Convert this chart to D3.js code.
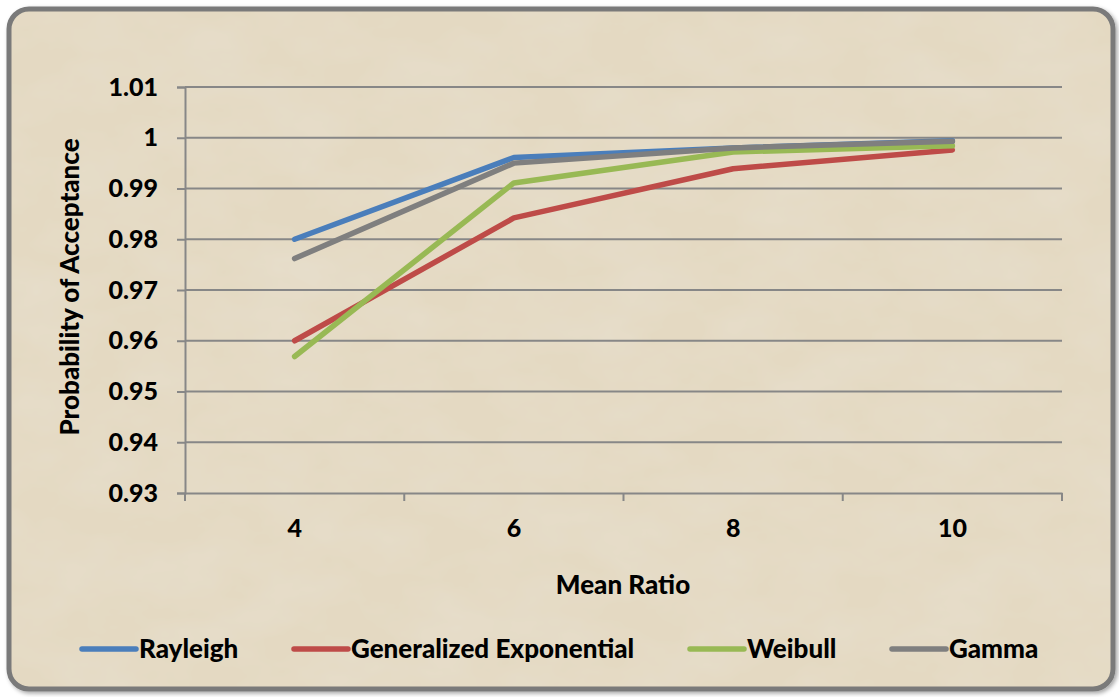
<!DOCTYPE html>
<html>
<head>
<meta charset="utf-8">
<script src="https://cdn.jsdelivr.net/npm/d3@7"></script>
<style>
  body { margin: 0; background: #fff; }
  text { font-family: Lato, "Open Sans", sans-serif; font-weight: 900; fill: #000; }
</style>
</head>
<body>
<div id="main"></div>
<script>
var categories = [4, 6, 8, 10];
var rayleigh = [0.980, 0.9961, 0.998, 0.9994];
var genExp = [0.960, 0.9842, 0.9939, 0.9976];
var weibull = [0.9569, 0.9911, 0.9972, 0.9984];
var gamma = [0.9762, 0.995, 0.998, 0.9993];
var seriesNames = ["Rayleigh", "Generalized Exponential", "Weibull", "Gamma"];
var seriesColors = ["#4a7ebb", "#be4b48", "#98b954", "#7f7f7f"];
var yTicks = [0.93, 0.94, 0.95, 0.96, 0.97, 0.98, 0.99, 1, 1.01];

var ctx = {
    w: 1119,
    h: 697,
    plot: { left: 185, right: 1062, top: 87, bottom: 493 },
};

var svg = d3.select("#main").append("svg")
    .attr("width", ctx.w)
    .attr("height", ctx.h);

var defs = svg.append("defs");
var filt = defs.append("filter").attr("id", "paper")
    .attr("x", 0).attr("y", 0).attr("width", "100%").attr("height", "100%");
filt.append("feTurbulence").attr("type", "fractalNoise")
    .attr("baseFrequency", "0.012 0.02").attr("numOctaves", 4).attr("seed", 3).attr("result", "noise");
filt.append("feColorMatrix").attr("in", "noise").attr("type", "matrix")
    .attr("values", "0 0 0 0 0.80  0 0 0 0 0.74  0 0 0 0 0.62  0 0 0 -1.1 0.75")
    .attr("result", "tint");
filt.append("feComposite").attr("in", "tint").attr("in2", "SourceGraphic").attr("operator", "atop");

var shadow = defs.append("filter").attr("id", "shadow");
shadow.append("feDropShadow").attr("dx", 2).attr("dy", 2).attr("stdDeviation", 2)
    .attr("flood-color", "#000").attr("flood-opacity", 0.35);

// frame
svg.append("rect")
    .attr("x", 9).attr("y", 9).attr("width", 1104).attr("height", 680)
    .attr("rx", 20)
    .attr("fill", "#e4d9c2")
    .attr("stroke", "#7a7a7a").attr("stroke-width", 5)
    .attr("filter", "url(#shadow)");
svg.append("rect")
    .attr("x", 12).attr("y", 12).attr("width", 1098).attr("height", 674)
    .attr("rx", 18)
    .attr("fill", "#e4d9c2")
    .attr("filter", "url(#paper)");

var x = d3.scaleBand()
    .domain(categories)
    .range([ctx.plot.left, ctx.plot.right]);
var y = d3.scaleLinear()
    .domain([0.93, 1.01])
    .range([ctx.plot.bottom, ctx.plot.top]);

// gridlines
svg.append("g").selectAll("line")
    .data(yTicks.slice(1))
    .enter().append("line")
    .attr("x1", ctx.plot.left).attr("x2", ctx.plot.right)
    .attr("y1", d => y(d)).attr("y2", d => y(d))
    .attr("stroke", "#878787").attr("stroke-width", 2);

// y axis
var yAxis = svg.append("g")
    .attr("transform", "translate(" + ctx.plot.left + ",0)")
    .call(d3.axisLeft(y).tickValues(yTicks).tickSize(8).tickPadding(19)
        .tickFormat(d => d3.format("")(+d.toFixed(2))));
yAxis.select(".domain").attr("stroke", "#878787").attr("stroke-width", 2);
yAxis.selectAll(".tick line").attr("stroke", "#878787").attr("stroke-width", 2);
yAxis.selectAll("text").style("font-size", "25px").attr("fill", "#000");

// x axis
var xAxis = svg.append("g")
    .attr("transform", "translate(0," + ctx.plot.bottom + ")")
    .call(d3.axisBottom(x).tickSize(0).tickPadding(26));
xAxis.select(".domain").attr("stroke", "#878787").attr("stroke-width", 2);
xAxis.selectAll("text").style("font-size", "25px").attr("fill", "#000");
// category boundary ticks
var bounds = categories.map(c => x(c)).concat([ctx.plot.right]);
xAxis.selectAll(".btick").data(bounds).enter().append("line")
    .attr("class", "btick")
    .attr("x1", d => d).attr("x2", d => d)
    .attr("y1", 0).attr("y2", 8)
    .attr("stroke", "#878787").attr("stroke-width", 2);

// lines
var allSeries = [rayleigh, genExp, weibull, gamma];
var line = d3.line()
    .x((d, i) => x(categories[i]) + x.bandwidth() / 2)
    .y(d => y(d));
svg.append("g").selectAll("path")
    .data(allSeries)
    .enter().append("path")
    .attr("d", d => line(d))
    .attr("fill", "none")
    .attr("stroke", (d, i) => seriesColors[i])
    .attr("stroke-width", 5.5)
    .attr("stroke-linecap", "round")
    .attr("stroke-linejoin", "round");

// axis titles
svg.append("text")
    .attr("x", 623).attr("y", 594)
    .attr("text-anchor", "middle")
    .style("font-size", "26px")
    .text("Mean Ratio");
svg.append("text")
    .attr("transform", "translate(79,287) rotate(-90)")
    .attr("text-anchor", "middle")
    .style("font-size", "26px")
    .text("Probability of Acceptance");

// legend
var legendX = [80, 292, 688, 890];
var legend = svg.append("g").selectAll("g")
    .data(seriesNames)
    .enter().append("g")
    .attr("transform", (d, i) => "translate(" + legendX[i] + ",649)");
legend.append("line")
    .attr("x1", 2).attr("x2", 56)
    .attr("stroke", (d, i) => seriesColors[i])
    .attr("stroke-width", 5.5)
    .attr("stroke-linecap", "round");
legend.append("text")
    .attr("x", 59).attr("y", 9)
    .style("font-size", "26px")
    .text(d => d);
</script>
</body>
</html>
